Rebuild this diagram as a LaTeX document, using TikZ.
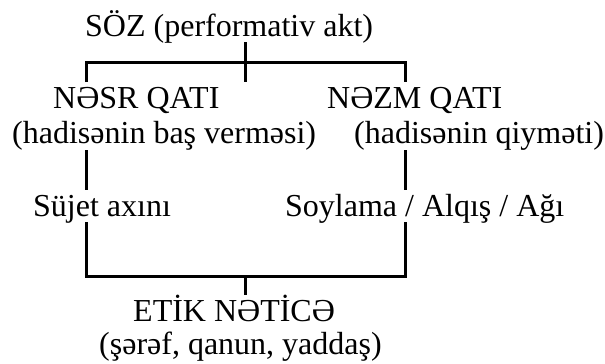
\documentclass[tikz,border=0pt]{standalone}
\usepackage{fontspec}
\setmainfont{Liberation Serif}
\begin{document}
\begin{tikzpicture}[x=1pt,y=-1pt,
  lbl/.style={anchor=base west,inner sep=0pt,font=\fontsize{32}{38}\selectfont},
  conn/.style={line width=3pt,black}]
\useasboundingbox (0,0) rectangle (605,364);
\node[lbl] (soz) at (85,36) {SÖZ (performativ akt)};
\node[lbl] (nesr) at (53,108) {NƏSR QATI};
\node[lbl] (nezm) at (327,108) {NƏZM QATI};
\node[lbl] (nesrp) at (12,143) {(hadisənin baş verməsi)};
\node[lbl] (nezmp) at (354,143) {(hadisənin qiyməti)};
\node[lbl] (sujet) at (33,216) {Süjet axını};
\node[lbl] (soyl) at (285,216) {Soylama / Alqış / Ağı};
\node[lbl] (etik) at (133,321) {ETİK NƏTİCƏ};
\node[lbl] (etikp) at (99,354) {(şərəf, qanun, yaddaş)};
% top bracket
\coordinate (a1) at (245,42);
\coordinate (a2) at (245,82);
\coordinate (b1) at (86,82);
\coordinate (b2) at (86,62);
\coordinate (b3) at (405,62);
\coordinate (b4) at (405,82);
\draw[conn] (a1) -- (a2);
\draw[conn] (b1) -- (b2) -- (b3) -- (b4);
% middle segments
\coordinate (l1) at (86,150); \coordinate (l2) at (86,190);
\coordinate (r1) at (405,150); \coordinate (r2) at (405,190);
\draw[conn] (l1) -- (l2);
\draw[conn] (r1) -- (r2);
% bottom bracket
\coordinate (c1) at (86,222); \coordinate (c2) at (86,276);
\coordinate (c3) at (405,276); \coordinate (c4) at (405,222);
\coordinate (d1) at (245,276); \coordinate (d2) at (245,295);
\draw[conn] (c1) -- (c2) -- (c3) -- (c4);
\draw[conn] (d1) -- (d2);
\end{tikzpicture}
\end{document}
